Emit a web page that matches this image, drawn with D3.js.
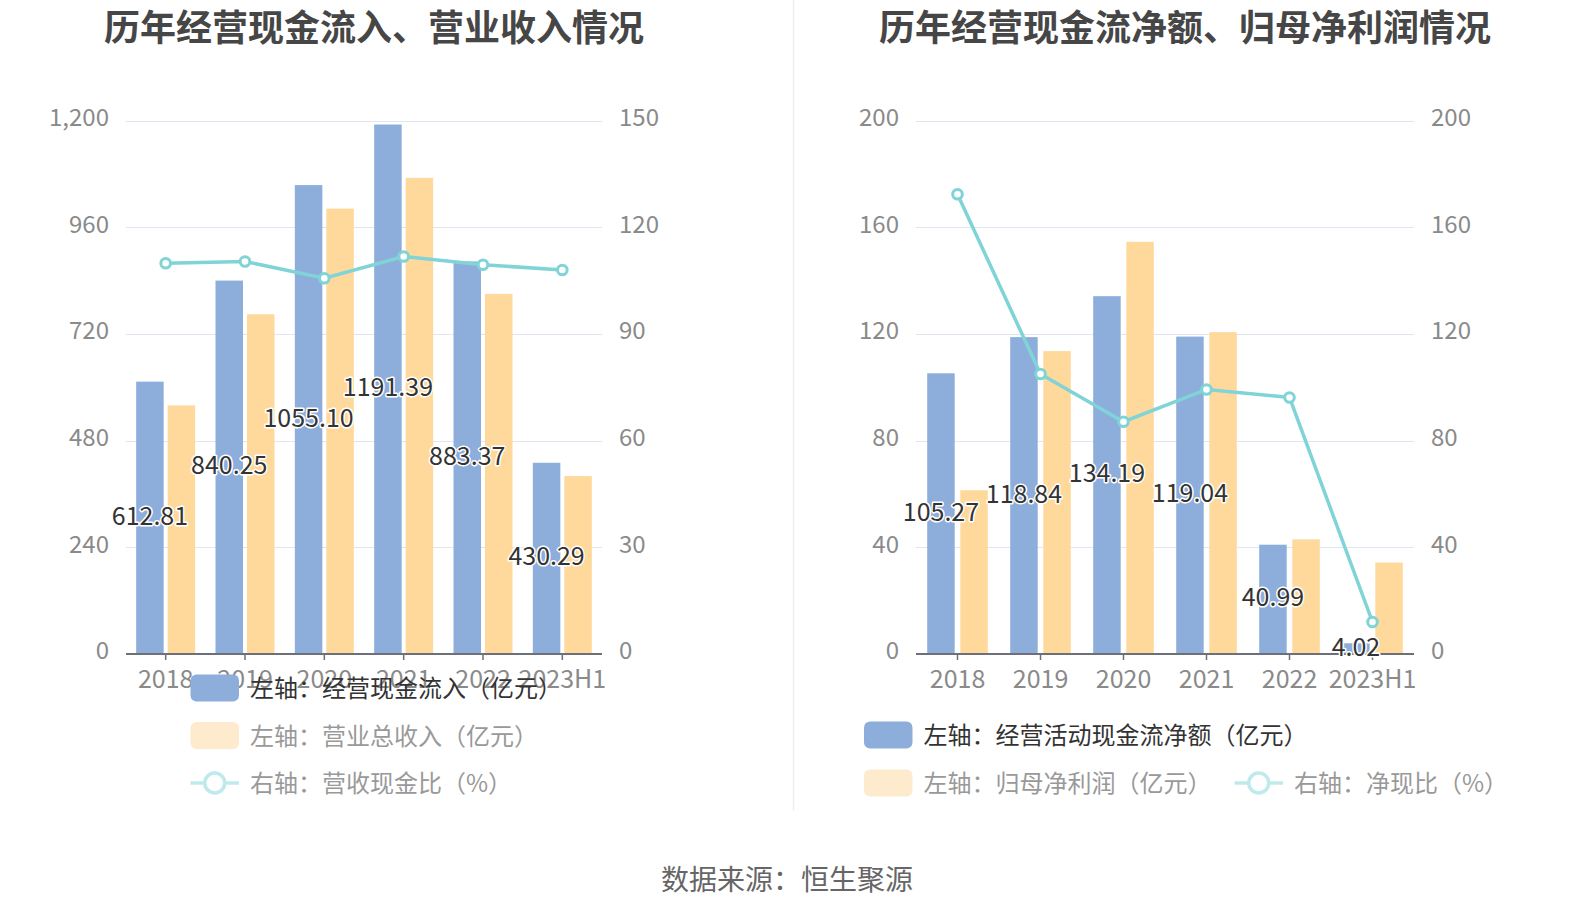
<!DOCTYPE html>
<html>
<head>
<meta charset="utf-8">
<script src="https://cdn.jsdelivr.net/npm/d3@7/dist/d3.min.js"></script>
<style>
  html, body { margin: 0; padding: 0; background: #fff; }
  svg { display: block; font-family: "Microsoft YaHei", "Noto Sans CJK SC", "Noto Sans", sans-serif; }
</style>
</head>
<body>
<svg id="chart" width="1574" height="918"></svg>
<script>
// ---------- data ----------
const categories = ['2018', '2019', '2020', '2021', '2022', '2023H1'];

// left chart
const cashInflow = [612.81, 840.25, 1055.10, 1191.39, 883.37, 430.29];   // 经营现金流入（亿元）
const revenue = [559.4, 764.4, 1002.2, 1071.3, 810.3, 400.3];              // 营业总收入（亿元）
const cashRevenueRatio = [109.9, 110.4, 105.7, 111.8, 109.5, 108.0];       // 营收现金比（%）
const leftTicksL = [0, 240, 480, 720, 960, 1200];
const leftTicksR = [0, 30, 60, 90, 120, 150];

// right chart
const netCashFlow = [105.27, 118.84, 134.19, 119.04, 40.99, 4.02];         // 经营活动现金流净额（亿元）
const netProfit = [61.4, 113.6, 154.6, 120.7, 43.0, 34.3];                 // 归母净利润（亿元）
const cashProfitRatio = [172.4, 105.0, 87.1, 99.2, 96.2, 12.0];            // 净现比（%）
const rightTicksL = [0, 40, 80, 120, 160, 200];
const rightTicksR = [0, 40, 80, 120, 160, 200];

const titles = ['历年经营现金流入、营业收入情况', '历年经营现金流净额、归母净利润情况'];
const sourceText = '数据来源：恒生聚源';

// ---------- styles ----------
const BLUE = '#8daedb';
const YELLOW = '#ffd99b';
const CYAN = '#80d4d7';
const BLUE_PALE = BLUE;
const YELLOW_PALE = '#feebcd';
const CYAN_PALE = '#bfeaec';
const GRID = '#e0e6f1';
const AXIS = '#6e7079';
const TICK_TEXT = '#8a8a8a';

const svg = d3.select('#chart');

// separator
svg.append('line').attr('x1', 793.5).attr('x2', 793.5).attr('y1', 0).attr('y2', 811)
  .attr('stroke', '#efefef').attr('stroke-width', 1.5);

function drawChart(cfg) {
  const g = svg.append('g');
  const x = d3.scaleBand().domain(categories).range([cfg.x0, cfg.x1]);
  const yL = d3.scaleLinear().domain([0, cfg.ticksL[cfg.ticksL.length - 1]]).range([654, 120.7]);
  const yR = d3.scaleLinear().domain([0, cfg.ticksR[cfg.ticksR.length - 1]]).range([654, 120.7]);

  // title
  g.append('text').attr('x', cfg.titleX).attr('y', 25)
    .attr('text-anchor', 'middle').attr('dominant-baseline', 'central')
    .attr('font-size', 36).attr('font-weight', 'bold').attr('fill', '#464646')
    .text(cfg.title);

  // gridlines
  g.append('g').selectAll('line').data(cfg.ticksL).join('line')
    .attr('x1', cfg.x0).attr('x2', cfg.x1)
    .attr('y1', d => Math.round(yL(d)) + 0.5).attr('y2', d => Math.round(yL(d)) + 0.5)
    .attr('stroke', GRID).attr('stroke-width', 1.2);

  // left axis labels
  const axL = d3.axisLeft(yL).tickValues(cfg.ticksL).tickSize(0).tickPadding(17)
    .tickFormat(d3.format(','));
  const gL = g.append('g').attr('transform', `translate(${cfg.x0},0)`).call(axL);
  gL.select('.domain').remove();
  gL.selectAll('text').attr('font-size', 24).attr('fill', TICK_TEXT).attr('dy', '0.2em')
    .attr('font-family', '"Microsoft YaHei","Noto Sans CJK SC",sans-serif');

  const axR = d3.axisRight(yR).tickValues(cfg.ticksR).tickSize(0).tickPadding(17)
    .tickFormat(d3.format(','));
  const gR = g.append('g').attr('transform', `translate(${cfg.x1},0)`).call(axR);
  gR.select('.domain').remove();
  gR.selectAll('text').attr('font-size', 24).attr('fill', TICK_TEXT).attr('dy', '0.2em')
    .attr('font-family', '"Microsoft YaHei","Noto Sans CJK SC",sans-serif');

  // bars
  const bw = 27.5, gap = cfg.gap;
  const pair = bw * 2 + gap;
  const bx = d => x(d) + (x.bandwidth() - pair) / 2;
  g.append('g').selectAll('rect').data(categories).join('rect')
    .attr('x', d => bx(d)).attr('width', bw)
    .attr('y', (d, i) => yL(cfg.bars1[i])).attr('height', (d, i) => yL(0) - yL(cfg.bars1[i]))
    .attr('fill', BLUE);
  g.append('g').selectAll('rect').data(categories).join('rect')
    .attr('x', d => bx(d) + bw + gap).attr('width', bw)
    .attr('y', (d, i) => yL(cfg.bars2[i])).attr('height', (d, i) => yL(0) - yL(cfg.bars2[i]))
    .attr('fill', YELLOW);

  // x axis
  const ax = d3.axisBottom(x).tickSize(6).tickPadding(10);
  const gx = g.append('g').attr('transform', 'translate(0,654)').call(ax);
  gx.select('.domain').attr('stroke', AXIS).attr('stroke-width', 2)
    .attr('d', `M${cfg.x0},0H${cfg.x1}`);
  gx.selectAll('.tick line').attr('stroke', AXIS).attr('stroke-width', 1.5);
  gx.selectAll('text').attr('font-size', 25).attr('fill', TICK_TEXT)
    .attr('font-family', '"Microsoft YaHei","Noto Sans CJK SC",sans-serif');

  // line
  const cx = d => x(d) + x.bandwidth() / 2;
  const line = d3.line().x((d, i) => cx(categories[i])).y(d => yR(d));
  g.append('path').datum(cfg.lineVals).attr('d', line)
    .attr('fill', 'none').attr('stroke', CYAN).attr('stroke-width', 3.5);
  g.append('g').selectAll('circle').data(cfg.lineVals).join('circle')
    .attr('cx', (d, i) => cx(categories[i])).attr('cy', d => yR(d)).attr('r', 4.8)
    .attr('fill', '#fff').attr('stroke', CYAN).attr('stroke-width', 3);

  // labels on blue bars
  g.append('g').selectAll('text').data(cfg.bars1).join('text')
    .attr('x', (d, i) => bx(categories[i]) + bw / 2)
    .attr('y', d => (yL(d) + yL(0)) / 2 - 4)
    .attr('text-anchor', 'middle').attr('dominant-baseline', 'central')
    .attr('font-size', 25).attr('fill', '#333')
    .attr('stroke', '#fff').attr('stroke-width', 3).attr('paint-order', 'stroke')
    .attr('stroke-linejoin', 'round')
    .text(d => d3.format('.2f')(d));

  // legend
  cfg.legend.forEach(item => {
    const lg = g.append('g');
    if (item.type === 'rect') {
      lg.append('rect').attr('x', item.x).attr('y', item.y - 13.5).attr('width', 48.5).attr('height', 27)
        .attr('rx', 6).attr('fill', item.color);
    } else {
      lg.append('line').attr('x1', item.x).attr('x2', item.x + 48.5).attr('y1', item.y).attr('y2', item.y)
        .attr('stroke', item.color).attr('stroke-width', 3.5);
      lg.append('circle').attr('cx', item.x + 24.25).attr('cy', item.y).attr('r', 10)
        .attr('fill', '#fff').attr('stroke', item.color).attr('stroke-width', 3.5);
    }
    lg.append('text').attr('x', item.x + 59.5).attr('y', item.y - 1.5)
      .attr('dominant-baseline', 'central').attr('font-size', 24).attr('fill', item.textColor)
      .text(item.label);
  });
}

drawChart({
  title: titles[0], titleX: 374,
  x0: 126, x1: 602, gap: 4,
  ticksL: leftTicksL, ticksR: leftTicksR,
  bars1: cashInflow, bars2: revenue, lineVals: cashRevenueRatio,
  legend: [
    {type: 'rect', x: 190.5, y: 688, color: BLUE_PALE, textColor: '#333', label: '左轴：经营现金流入（亿元）'},
    {type: 'rect', x: 190.5, y: 735.5, color: YELLOW_PALE, textColor: '#999', label: '左轴：营业总收入（亿元）'},
    {type: 'line', x: 190.5, y: 783, color: CYAN_PALE, textColor: '#999', label: '右轴：营收现金比（%）'}
  ]
});

drawChart({
  title: titles[1], titleX: 1185,
  x0: 916, x1: 1414, gap: 5.6,
  ticksL: rightTicksL, ticksR: rightTicksR,
  bars1: netCashFlow, bars2: netProfit, lineVals: cashProfitRatio,
  legend: [
    {type: 'rect', x: 864, y: 735, color: BLUE_PALE, textColor: '#333', label: '左轴：经营活动现金流净额（亿元）'},
    {type: 'rect', x: 864, y: 783, color: YELLOW_PALE, textColor: '#999', label: '左轴：归母净利润（亿元）'},
    {type: 'line', x: 1234.5, y: 783, color: CYAN_PALE, textColor: '#999', label: '右轴：净现比（%）'}
  ]
});

svg.append('text').attr('x', 787).attr('y', 878)
  .attr('text-anchor', 'middle').attr('dominant-baseline', 'central')
  .attr('font-size', 28).attr('fill', '#666').text(sourceText);
</script>
</body>
</html>
